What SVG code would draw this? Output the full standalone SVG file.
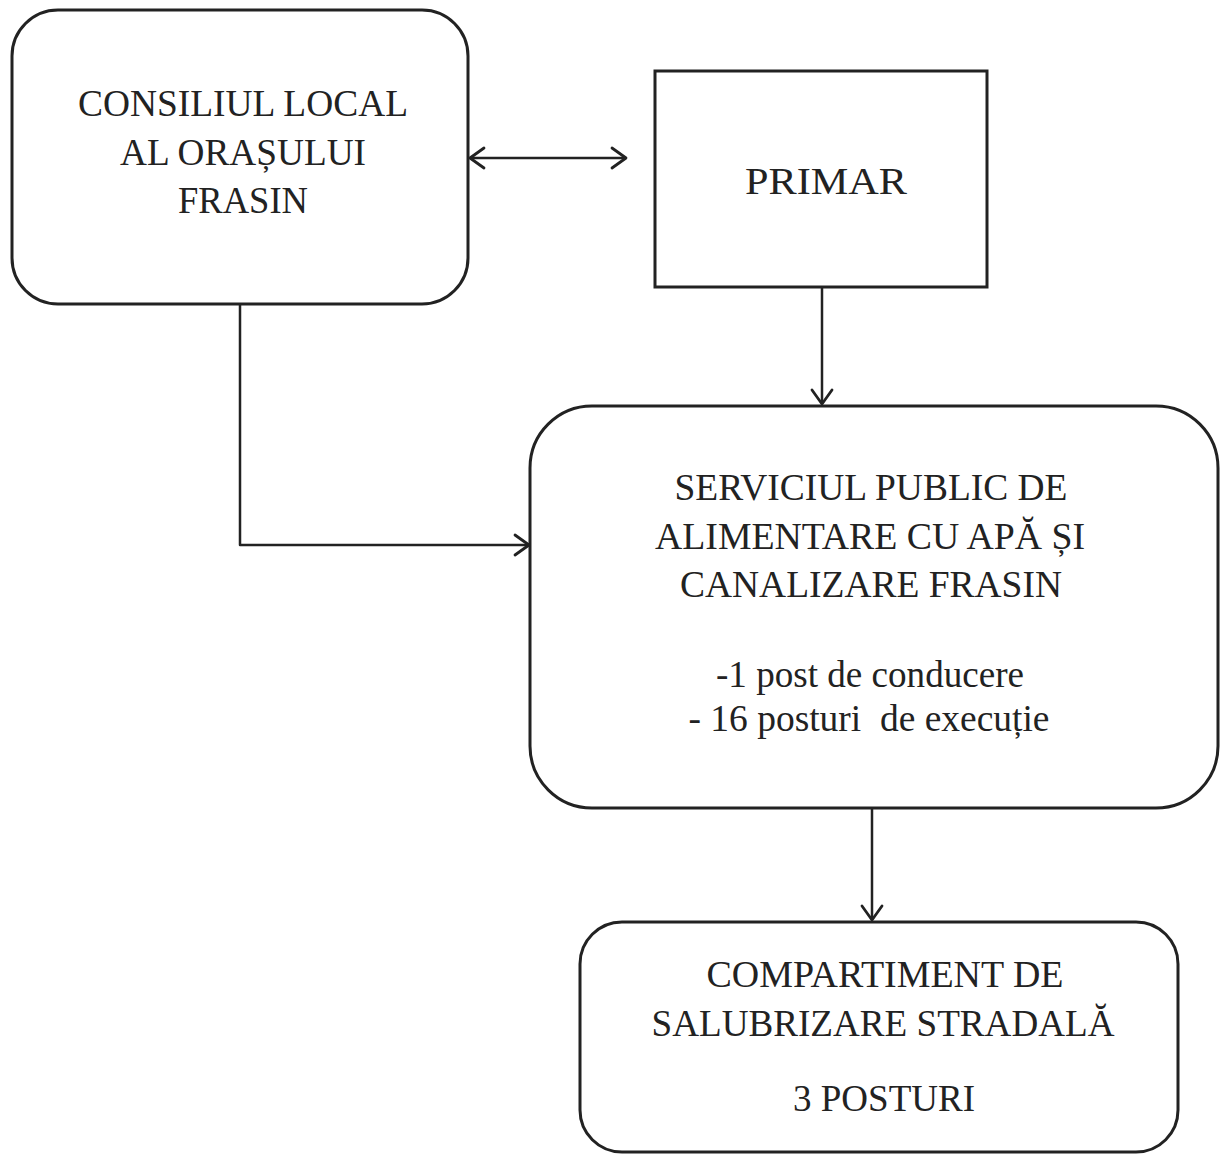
<svg xmlns="http://www.w3.org/2000/svg" width="1220" height="1154" viewBox="0 0 1220 1154">
<style>
.box{fill:#fff;stroke:#222;stroke-width:3}
.conn{fill:none;stroke:#222;stroke-width:2.5;stroke-linejoin:round}
.t{font-family:"Liberation Serif","Times New Roman",serif;font-size:37px;fill:#222;text-anchor:middle}
</style>
<defs>
<marker id="arr" markerWidth="20" markerHeight="24" viewBox="0 0 20 24" refX="17" refY="12" orient="auto-start-reverse" markerUnits="userSpaceOnUse">
<path d="M3,2 L17,12 L3,22" fill="none" stroke="#222" stroke-width="2.8" stroke-linecap="round" stroke-linejoin="round"/>
</marker>
</defs>
<rect width="1220" height="1154" fill="#fff"/>
<g id="connectors">
<line class="conn" x1="470" y1="158" x2="626" y2="158" marker-start="url(#arr)" marker-end="url(#arr)"/>
<line class="conn" x1="822" y1="288" x2="822" y2="404" marker-end="url(#arr)"/>
<polyline class="conn" points="240,305 240,545 529,545" marker-end="url(#arr)"/>
<line class="conn" x1="872" y1="809" x2="872" y2="920" marker-end="url(#arr)"/>
</g>
<g id="consiliul">
<rect class="box" x="12" y="10" width="456" height="294" rx="46" ry="46"/>
<text class="t" x="243" y="116" textLength="330" lengthAdjust="spacingAndGlyphs">CONSILIUL LOCAL</text>
<text class="t" x="243" y="165" textLength="246" lengthAdjust="spacingAndGlyphs">AL ORAȘULUI</text>
<text class="t" x="243" y="213" textLength="130" lengthAdjust="spacingAndGlyphs">FRASIN</text>
</g>
<g id="primar">
<rect class="box" x="655" y="71" width="332" height="216"/>
<text class="t" x="826" y="194" textLength="162" lengthAdjust="spacingAndGlyphs">PRIMAR</text>
</g>
<g id="serviciul">
<rect class="box" x="530" y="406" width="688" height="402" rx="62" ry="62"/>
<text class="t" x="871" y="500" textLength="393" lengthAdjust="spacingAndGlyphs">SERVICIUL PUBLIC DE</text>
<text class="t" x="870" y="549" textLength="430" lengthAdjust="spacingAndGlyphs">ALIMENTARE CU APĂ ȘI</text>
<text class="t" x="871" y="597" textLength="382" lengthAdjust="spacingAndGlyphs">CANALIZARE FRASIN</text>
<text class="t" x="870" y="687" textLength="308" lengthAdjust="spacingAndGlyphs">-1 post de conducere</text>
<text class="t" x="869" y="731" textLength="361" lengthAdjust="spacingAndGlyphs" xml:space="preserve">- 16 posturi  de execuție</text>
</g>
<g id="compartiment">
<rect class="box" x="580" y="922" width="598" height="230" rx="42" ry="42"/>
<text class="t" x="885" y="987" textLength="357" lengthAdjust="spacingAndGlyphs">COMPARTIMENT DE</text>
<text class="t" x="883" y="1036" textLength="463" lengthAdjust="spacingAndGlyphs">SALUBRIZARE STRADALĂ</text>
<text class="t" x="884" y="1111" textLength="182" lengthAdjust="spacingAndGlyphs">3 POSTURI</text>
</g>
</svg>
